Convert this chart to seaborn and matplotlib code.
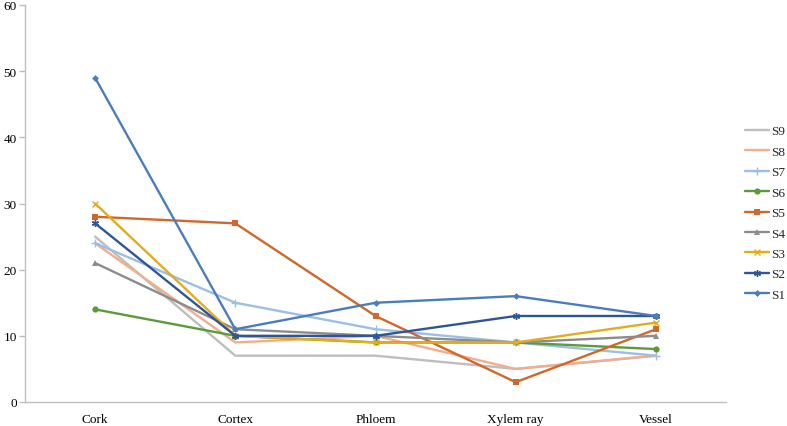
import matplotlib
matplotlib.use("Agg")
import matplotlib.pyplot as plt
import seaborn as sns

# tissue categories on the x axis
tissues = ["Cork", "Cortex", "Phloem", "Xylem ray", "Vessel"]

# values per sample
s1 = [49, 11, 15, 16, 13]
s2 = [27, 10, 10, 13, 13]
s3 = [30, 10, 9, 9, 12]
s4 = [21, 11, 10, 9, 10]
s5 = [28, 27, 13, 3, 11]
s6 = [14, 10, 9, 9, 8]
s7 = [24, 15, 11, 9, 7]
s8 = [24, 9, 10, 5, 7]
s9 = [25, 7, 7, 5, 7]

series_names = ["S1", "S2", "S3", "S4", "S5", "S6", "S7", "S8", "S9"]
series_values = [s1, s2, s3, s4, s5, s6, s7, s8, s9]

colors = ["#4A7EBB", "#2F5597", "#E3AC1B", "#8C8C8C", "#D0672B",
          "#5C9B3C", "#9DBFE3", "#F0AE8C", "#BEBEBE"]
markers = ["D", (6, 2, 0), "x", "^", "s", "o", "+", None, None]
msizes = [3.5, 5, 5, 4.5, 4.5, 4.5, 6, 0, 0]

sns.set_theme(style="white")
plt.rcParams["font.family"] = ["Liberation Serif", "DejaVu Serif"]

fig = plt.figure(figsize=(7.87, 4.27), dpi=100)
ax = fig.add_axes([25 / 787, 24 / 427, 701 / 787, 397 / 427])

# draw S9 first so S1 sits on top
for name, vals, col, mk, ms in reversed(list(zip(series_names, series_values, colors, markers, msizes))):
    kw = dict(marker=mk, markersize=ms, markeredgewidth=1.0 if mk in ("x", "+", (6, 2, 0)) else 0,
              markeredgecolor=col) if mk is not None else {}
    sns.lineplot(x=tissues, y=vals, color=col, linewidth=1.7, sort=False,
                 label=name, ax=ax, **kw)

ax.set_xlim(-0.5, 4.5)
ax.set_ylim(0, 60)
ax.set_yticks(range(0, 61, 10))
ax.set_xlabel("")
ax.set_ylabel("")

for side in ["top", "right"]:
    ax.spines[side].set_visible(False)
for side in ["left", "bottom"]:
    ax.spines[side].set_color("#BFBFBF")
    ax.spines[side].set_linewidth(1.0)

ax.tick_params(axis="y", which="major", left=True, length=4, width=1.0,
               color="#BFBFBF", labelsize=9.5, pad=2, labelcolor="#000000")
ax.tick_params(axis="x", which="major", bottom=False, length=0,
               labelsize=9.5, pad=8, labelcolor="#000000")

handles, labels = ax.get_legend_handles_labels()
ax.legend(handles, labels, loc="center left", bbox_to_anchor=(720 / 701, 0.476),
          frameon=False, fontsize=9.5, handlelength=1.8, handletextpad=0.15,
          labelspacing=0.62, borderaxespad=0, borderpad=0)

fig.savefig("out.png", dpi=100)
